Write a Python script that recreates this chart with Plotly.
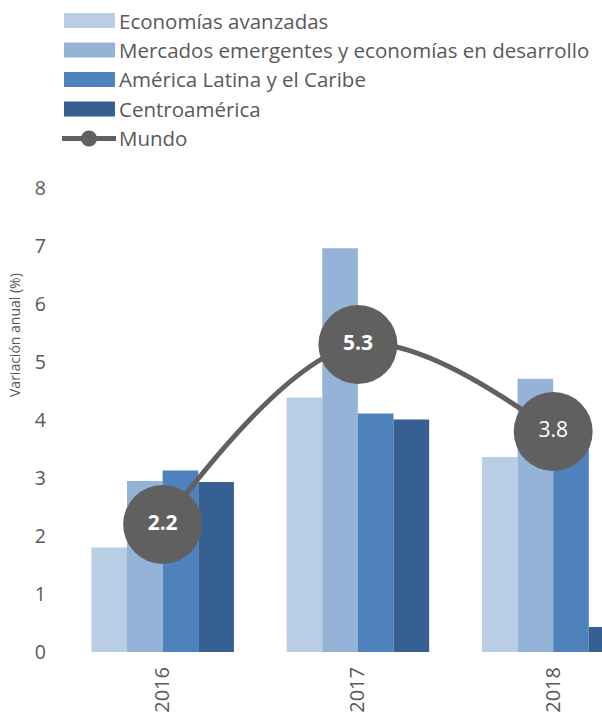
import plotly.graph_objects as go

years = ["2016", "2017", "2018"]
avanzadas = [1.80, 4.39, 3.36]
emergentes = [2.95, 6.96, 4.71]
alc = [3.13, 4.11, 3.85]
centro = [2.93, 4.01, 0.43]
mundo = [2.2, 5.3, 3.8]
mundo_labels = ["<b>2.2</b>", "<b>5.3</b>", "3.8"]

series_names = ["Economías avanzadas", "Mercados emergentes y economías en desarrollo",
                "América Latina y el Caribe", "Centroamérica"]
series_vals = [avanzadas, emergentes, alc, centro]
colors = ["#b9cde5", "#95b3d7", "#4f81bd", "#376092"]
line_color = "#606060"
text_color = "#595959"
FONT = "Open Sans"

W, H = 602, 717
L, R, T, B = 65, 0, 188, 65
PW, PH = W - L - R, H - T - B

def px2x(px):
    return (px - L) / PW

def py2y(py):
    return (H - B - py) / PH

fig = go.Figure()
for name, vals, c in zip(series_names, series_vals, colors):
    fig.add_trace(go.Bar(x=years, y=vals, name=name, marker=dict(color=c, line=dict(width=0)),
                         showlegend=False))

fig.add_trace(go.Scatter(x=years, y=mundo, name="Mundo", mode="lines+markers+text",
                         line=dict(color=line_color, width=5, shape="spline", smoothing=1),
                         marker=dict(size=79, color=line_color),
                         text=mundo_labels, textposition="middle center",
                         textfont=dict(color="white", size=21, family=FONT),
                         showlegend=False, cliponaxis=False))

shapes = []
annotations = []
row_y = [20.5, 50, 79.5, 109, 138.5]
for i, (name, c) in enumerate(zip(series_names, colors)):
    cy = row_y[i]
    shapes.append(dict(type="rect", xref="paper", yref="paper",
                       x0=px2x(64), x1=px2x(115), y0=py2y(cy - 7.5), y1=py2y(cy + 7.5),
                       fillcolor=c, line=dict(width=0)))
    annotations.append(dict(text=name, xref="paper", yref="paper", x=px2x(117), y=py2y(cy),
                            xanchor="left", yanchor="middle", showarrow=False,
                            font=dict(size=20.5, color=text_color, family=FONT)))
cy = row_y[4]
shapes.append(dict(type="line", xref="paper", yref="paper", x0=px2x(62), x1=px2x(116),
                   y0=py2y(cy), y1=py2y(cy), line=dict(color=line_color, width=5)))
shapes.append(dict(type="circle", xref="paper", yref="paper", x0=px2x(81), x1=px2x(97),
                   y0=py2y(cy - 8), y1=py2y(cy + 8), fillcolor=line_color, line=dict(width=0)))
annotations.append(dict(text="Mundo", xref="paper", yref="paper", x=px2x(117), y=py2y(cy),
                        xanchor="left", yanchor="middle", showarrow=False,
                        font=dict(size=20.5, color=text_color, family=FONT)))
annotations.append(dict(text="Variación anual (%)", xref="paper", yref="paper",
                        x=px2x(14), y=py2y(335), textangle=-90, showarrow=False,
                        xanchor="center", yanchor="middle",
                        font=dict(size=14, color=text_color, family=FONT)))

fig.update_layout(
    width=W, height=H,
    margin=dict(l=L, r=R, t=T, b=B),
    paper_bgcolor="white", plot_bgcolor="white",
    barmode="group", bargap=0.27, bargroupgap=0,
    shapes=shapes, annotations=annotations,
    font=dict(family=FONT, color=text_color),
    xaxis=dict(type="category", range=[-0.5, 2.25], showgrid=False, zeroline=False,
               showline=False, ticks="", tickangle=-90, ticklabelstandoff=10,
               tickfont=dict(size=20, color=text_color, family=FONT)),
    yaxis=dict(range=[0, 8], dtick=1, showgrid=False, zeroline=False, showline=False,
               ticks="", ticklabelstandoff=18,
               tickfont=dict(size=19.5, color=text_color, family=FONT)),
)

fig.write_html("out.html")
